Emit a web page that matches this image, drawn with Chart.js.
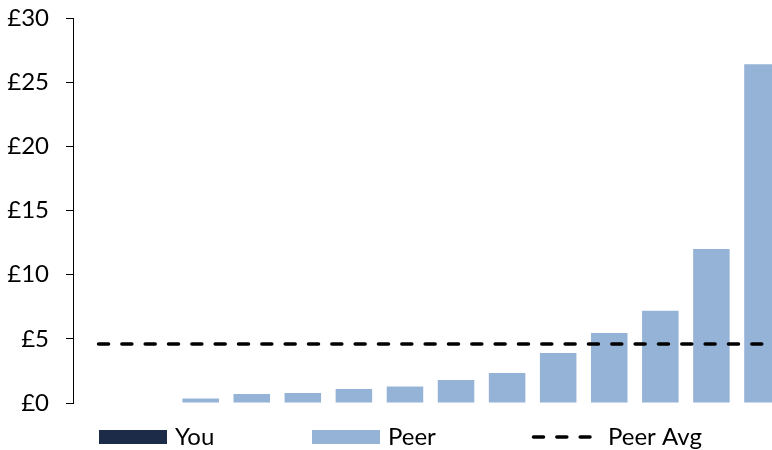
<!DOCTYPE html>
<html>
<head>
<meta charset="utf-8">
<script src="https://cdn.jsdelivr.net/npm/chart.js@4.4.1/dist/chart.umd.min.js"></script>
<style>
  html, body { margin: 0; padding: 0; background: #fff; overflow: hidden; }
  #wrap { width: 772px; height: 450px; overflow: hidden; position: relative; }
  canvas { display: block; }
</style>
</head>
<body>
<div id="wrap"><canvas id="chart" width="788" height="450"></canvas></div>
<script>
// Cost per head: your figure, each peer, and the peer average
const categories = ['You', 'Peer 1', 'Peer 2', 'Peer 3', 'Peer 4', 'Peer 5', 'Peer 6',
                    'Peer 7', 'Peer 8', 'Peer 9', 'Peer 10', 'Peer 11', 'Peer 12', 'Peer 13'];
const youValues = [0, null, null, null, null, null, null, null, null, null, null, null, null, null];
const peerValues = [null, 0, 0.36, 0.70, 0.78, 1.09, 1.29, 1.79, 2.34, 3.89, 5.45, 7.19, 12.0, 26.4];
const peerAvgValues = [4.6, 4.6, 4.6, 4.6, 4.6, 4.6, 4.6, 4.6, 4.6, 4.6, 4.6, 4.6, 4.6, 4.6];
const yTickValues = [0, 5, 10, 15, 20, 25, 30];
const seriesNames = ['You', 'Peer', 'Peer Avg'];

const NAVY = '#1c2b48';
const LIGHT = '#95b3d7';
const DASH = [10, 13.33];

Chart.defaults.font.family = 'Lato, "Open Sans", sans-serif';
Chart.defaults.font.size = 24;
Chart.defaults.color = '#000';

// Legend drawn along the bottom edge with fixed item spacing
const bottomLegend = {
  id: 'bottomLegend',
  afterDraw(chart) {
    const ctx = chart.ctx;
    const cy = 437;
    ctx.save();
    ctx.font = '24px Lato, "Open Sans", sans-serif';
    ctx.textBaseline = 'middle';
    ctx.textAlign = 'left';
    // You
    ctx.fillStyle = NAVY;
    ctx.fillRect(99, 430, 68, 14);
    ctx.fillStyle = '#000';
    ctx.fillText(seriesNames[0], 175, cy);
    // Peer
    ctx.fillStyle = LIGHT;
    ctx.fillRect(312, 430, 68, 14);
    ctx.fillStyle = '#000';
    ctx.fillText(seriesNames[1], 388, cy);
    // Peer Avg
    ctx.strokeStyle = '#000';
    ctx.lineWidth = 3.5;
    ctx.lineCap = 'round';
    ctx.setLineDash(DASH);
    ctx.beginPath();
    ctx.moveTo(533.5, cy);
    ctx.lineTo(590, cy);
    ctx.stroke();
    ctx.setLineDash([]);
    ctx.fillText(seriesNames[2], 608, cy);
    ctx.restore();
  }
};

new Chart(document.getElementById('chart'), {
  type: 'bar',
  data: {
    labels: categories,
    datasets: [
      {
        type: 'line',
        label: seriesNames[2],
        data: peerAvgValues,
        borderColor: '#000',
        borderWidth: 3.5,
        borderDash: DASH,
        borderCapStyle: 'round',
        pointRadius: 0,
        fill: false,
        order: 0
      },
      {
        label: seriesNames[0],
        data: youValues,
        backgroundColor: NAVY,
        borderWidth: 0,
        grouped: false,
        inflateAmount: 0,
        barPercentage: 0.715,
        categoryPercentage: 1,
        order: 1
      },
      {
        label: seriesNames[1],
        data: peerValues,
        backgroundColor: LIGHT,
        borderWidth: 0,
        grouped: false,
        inflateAmount: 0,
        barPercentage: 0.715,
        categoryPercentage: 1,
        order: 2
      }
    ]
  },
  options: {
    responsive: false,
    animation: false,
    layout: { padding: { top: 18, bottom: 47, left: 0, right: 0 } },
    plugins: {
      legend: { display: false },
      tooltip: { enabled: false }
    },
    scales: {
      x: { display: false },
      y: {
        min: 0,
        max: 30,
        afterFit(scale) {
          scale.width = 73;
          scale.paddingTop = 0;
          scale.paddingBottom = 0;
        },
        afterBuildTicks(scale) { scale.ticks = yTickValues.map(v => ({ value: v })); },
        border: { display: true, color: '#000', width: 1 },
        grid: { drawOnChartArea: false, drawTicks: true, tickLength: 7, color: '#000' },
        ticks: {
          padding: 17,
          color: '#000',
          font: { size: 24 },
          callback: v => '£' + v
        }
      }
    }
  },
  plugins: [bottomLegend]
});
</script>
</body>
</html>
